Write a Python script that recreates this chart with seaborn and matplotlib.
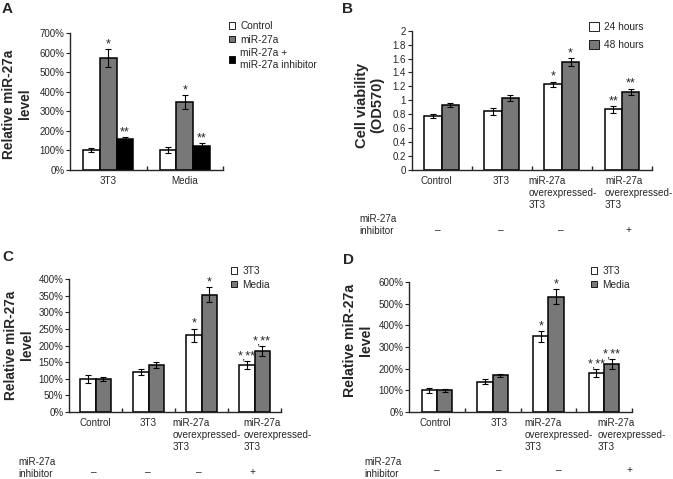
# Figure en 4 panneaux : niveau relatif de miR-27a et viabilité cellulaire
import matplotlib
matplotlib.use("Agg")
import matplotlib.pyplot as plt
from matplotlib.patches import Patch
from matplotlib.ticker import FuncFormatter
import seaborn as sns
import pandas as pd

# ---- Données ----
a_groups = ["3T3", "Media"]
a_series = ["Control", "miR-27a", "miR-27a +\nmiR-27a inhibitor"]
a_values = [[102, 102], [572, 348], [158, 124]]
a_errors = [[12, 17], [44, 35], [12, 16]]
a_marks = [["", ""], ["*", "*"], ["**", "**"]]

bcd_keys = ["ctrl", "3t3", "over", "over_inh"]
bcd_labels = ["Control", "3T3", "miR-27a\noverexpressed-\n3T3", "miR-27a\noverexpressed-\n3T3"]
inhibitor_signs = ["–", "–", "–", "+"]

b_series = ["24 hours", "48 hours"]
b_values = [[0.77, 0.84, 1.23, 0.87], [0.93, 1.03, 1.55, 1.12]]
b_errors = [[0.03, 0.05, 0.04, 0.05], [0.03, 0.04, 0.06, 0.05]]
b_marks = [["", "", "*", "**"], ["", "", "*", "**"]]

c_series = ["3T3", "Media"]
c_values = [[100, 120, 231, 141], [100, 141, 353, 182]]
c_errors = [[12, 8, 20, 12], [6, 10, 22, 15]]
c_marks = [["", "", "*", "*,**"], ["", "", "*", "*,**"]]

d_series = ["3T3", "Media"]
d_values = [[100, 140, 349, 180], [100, 169, 532, 222]]
d_errors = [[12, 13, 25, 20], [8, 8, 35, 22]]
d_marks = [["", "", "*", "*,**"], ["", "", "*", "*,**"]]

GRAY = "#787878"
W, H = 673, 479
PT = 0.72  # pixels -> points

sns.set_style("ticks")
plt.rcParams["font.family"] = ["Liberation Sans", "DejaVu Sans"]

fig = plt.figure(figsize=(W / 100, H / 100), dpi=100)


def rect(x0, x1, ytop, ybot):
    # position d'un axe en pixels -> fraction de figure
    return [x0 / W, 1 - ybot / H, (x1 - x0) / W, (ybot - ytop) / H]


def long_table(groups, series, values):
    rows = []
    for s, vals in zip(series, values):
        for g, v in zip(groups, vals):
            rows.append({"group": g, "series": s, "value": v})
    return pd.DataFrame(rows)


def draw_panel(ax, groups, labels, label_pos, series, values, errors, marks, colors, width):
    df = long_table(groups, series, values)
    sns.barplot(data=df, x="group", y="value", hue="series", order=groups,
                hue_order=series, palette=colors, width=width, edgecolor="black",
                linewidth=1.1, errorbar=None, legend=False, ax=ax)
    # barres d'erreur + étoiles
    for cont, err, mk in zip(ax.containers, errors, marks):
        for bar, e, m in zip(cont, err, mk):
            x = bar.get_x() + bar.get_width() / 2
            h = bar.get_height()
            ax.errorbar(x, h, yerr=e, color="black", capsize=2,
                        elinewidth=0.8, capthick=0.8)
            if m:
                ax.annotate(m, (x, h + e), xytext=(0, -1), textcoords="offset points",
                            ha="center", va="bottom", fontsize=9)
    n = len(groups)
    ax.set_xlim(-0.5, n - 0.5)
    ax.set_xticks(range(n))
    ax.set_xticklabels([""] * n)
    # étiquettes de catégories (décalées comme dans l'original)
    for i, (lbl, (dx, ha)) in enumerate(zip(labels, label_pos)):
        ax.annotate(lbl, xy=(i, 0), xycoords=ax.get_xaxis_transform(),
                    xytext=(dx * PT, -4), textcoords="offset points", ha=ha, va="top",
                    fontsize=7.1, multialignment="left", linespacing=1.25)
    ax.set_xticks([i + 0.5 for i in range(n)], minor=True)
    ax.tick_params(axis="x", which="major", length=0, pad=4)
    ax.tick_params(axis="x", which="minor", length=3, direction="in", width=1)
    ax.tick_params(axis="y", length=3, width=0.8, labelsize=7, pad=1)
    ax.set_xlabel("")
    ax.set_ylabel("")
    for s in ["top", "right"]:
        ax.spines[s].set_visible(False)
    for s in ["left", "bottom"]:
        ax.spines[s].set_linewidth(1)


def add_legend(ax, series, colors, anchor, hsize, spacing):
    handles = [Patch(facecolor=c, edgecolor="black", linewidth=0.6) for c in colors]
    ax.legend(handles, series, loc="upper left", bbox_to_anchor=(anchor[0] / W, 1 - anchor[1] / H),
              bbox_transform=fig.transFigure, frameon=False, fontsize=7.3,
              handlelength=hsize, handleheight=hsize, handletextpad=0.5,
              labelspacing=spacing, borderpad=0, borderaxespad=0)


def add_inhibitor_row(ax, xlabel, ylabel_px, ysign, sign_dx):
    fig.text(xlabel / W, 1 - ylabel_px / H, "miR-27a\ninhibitor", fontsize=7.1,
             ha="left", va="center", linespacing=1.3)
    for i, (s, dx) in enumerate(zip(inhibitor_signs, sign_dx)):
        ax.annotate(s, xy=(i, ysign), xycoords=ax.get_xaxis_transform(),
                    xytext=(dx * PT, 0), textcoords="offset points",
                    ha="center", va="center", fontsize=7.3)


pct = FuncFormatter(lambda v, _: f"{v:.0f}%")

# ---- Panneau A ----
axA = fig.add_axes(rect(70, 223, 33, 170))
colsA = ["white", GRAY, "black"]
draw_panel(axA, a_groups, a_groups, [(0, "center"), (0, "center")],
           a_series, a_values, a_errors, a_marks, colsA, 0.66)
axA.set_ylim(0, 700)
axA.set_yticks(range(0, 701, 100))
axA.yaxis.set_major_formatter(pct)
add_legend(axA, a_series, colsA, (229, 21), 0.6, 0.35)

# ---- Panneau B ----
axB = fig.add_axes(rect(411.5, 652, 30.7, 170))
colsB = ["white", GRAY]
draw_panel(axB, bcd_keys, bcd_labels,
           [(-5, "center"), (-1, "center"), (-33, "left"), (-17, "left")],
           b_series, b_values, b_errors, b_marks, colsB, 0.58)
axB.set_ylim(0, 2)
axB.set_yticks([i * 0.2 for i in range(11)])
axB.yaxis.set_major_formatter(FuncFormatter(lambda v, _: f"{v:.1f}".rstrip("0").rstrip(".")))
add_legend(axB, b_series, colsB, (589, 22), 1.0, 0.75)
add_inhibitor_row(axB, 359, 225, -0.43, [-4, -1, -1, 7])

# ---- Panneau C ----
axC = fig.add_axes(rect(69, 281, 279, 412))
colsC = ["white", GRAY]
draw_panel(axC, bcd_keys, bcd_labels,
           [(0, "center"), (0, "center"), (-29, "left"), (-11, "left")],
           c_series, c_values, c_errors, c_marks, colsC, 0.58)
axC.set_ylim(0, 400)
axC.set_yticks(range(0, 401, 50))
axC.yaxis.set_major_formatter(pct)
add_legend(axC, c_series, colsC, (231, 266), 0.6, 0.35)
add_inhibitor_row(axC, 18, 468, -0.45, [-2, -1, -3, -2])

# ---- Panneau D ----
axD = fig.add_axes(rect(409, 632, 282, 412))
colsD = ["white", GRAY]
draw_panel(axD, bcd_keys, bcd_labels,
           [(-1, "center"), (6, "center"), (-24, "left"), (-7, "left")],
           d_series, d_values, d_errors, d_marks, colsD, 0.55)
axD.set_ylim(0, 600)
axD.set_yticks(range(0, 601, 100))
axD.yaxis.set_major_formatter(pct)
add_legend(axD, d_series, colsD, (591, 266), 0.6, 0.35)
add_inhibitor_row(axD, 364, 468, -0.45, [0, 6, 10, 25])

# ---- Titres des axes y et lettres des panneaux ----
ylab = dict(rotation=90, ha="center", va="center", fontweight="bold", linespacing=1.1)
fig.text(17 / W, 1 - 104 / H, "Relative miR-27a\nlevel", fontsize=9.8, **ylab)
fig.text(370 / W, 1 - 105 / H, "Cell viability\n(OD570)", fontsize=10.5, **ylab)
fig.text(19 / W, 1 - 345 / H, "Relative miR-27a\nlevel", fontsize=9.8, **ylab)
fig.text(358 / W, 1 - 340 / H, "Relative miR-27a\nlevel", fontsize=10.2, **ylab)

for letter, x, y in [("A", 2, 2), ("B", 342, 2), ("C", 2, 250), ("D", 343, 253)]:
    fig.text(x / W, 1 - y / H, letter, fontsize=11, fontweight="bold", ha="left", va="top")

fig.savefig("out.png", dpi=100)
